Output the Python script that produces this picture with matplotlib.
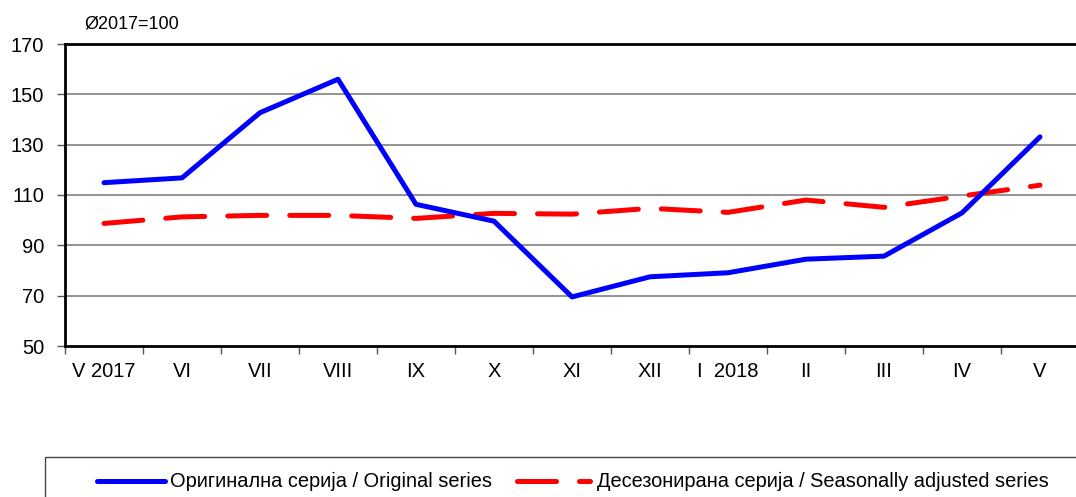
import matplotlib
matplotlib.use("Agg")
import matplotlib.pyplot as plt
from matplotlib.lines import Line2D
from matplotlib.patches import Rectangle

plt.rcParams['font.family'] = ['Liberation Sans', 'DejaVu Sans']

categories = ["V 2017", "VI", "VII", "VIII", "IX", "X", "XI", "XII", "I  2018", "II", "III", "IV", "V"]
original = [114.9, 116.8, 142.7, 156.0, 106.3, 99.6, 69.5, 77.5, 79.1, 84.5, 85.7, 102.9, 133.1]
seasonal = [98.7, 101.3, 101.9, 101.9, 100.7, 102.7, 102.4, 104.7, 103.1, 108.0, 105.1, 109.6, 113.9]
yticks = [50, 70, 90, 110, 130, 150, 170]

fig = plt.figure(figsize=(10.76, 4.97), dpi=100)
ax = fig.add_axes([65/1076, 1-346/497, (1079-65)/1076, (346-44)/497])

x = list(range(len(categories)))
ax.set_ylim(50, 170)
ax.set_xlim(-0.5, len(categories) - 0.5)
ax.set_yticks(yticks)
for v in yticks[1:-1]:
    ax.axhline(v, color='#808080', lw=1.2, zorder=1)

ax.plot(x, seasonal, color='#ff0000', lw=3.6, dashes=(7.8, 4.6), dash_capstyle='round',
        solid_capstyle='round', zorder=3)
ax.plot(x, original, color='#0000ff', lw=3.6, solid_capstyle='round', zorder=4)

ax.set_xticks(x)
ax.set_xticklabels(categories, fontsize=14.5)
ax.set_xticks([i - 0.5 for i in range(len(categories) + 1)], minor=True)
ax.tick_params(axis='x', which='major', length=0, pad=11.5)
ax.tick_params(axis='x', which='minor', length=6, width=1, color='#555555')
ax.tick_params(axis='y', labelsize=14.5, length=6, width=1, pad=9, color='#555555')

for s in ['left', 'bottom', 'top']:
    ax.spines[s].set_linewidth(2)
    ax.spines[s].set_color('black')
ax.spines['right'].set_visible(False)

fig.text(84/1076, 1-24/497, "Ø2017=100", fontsize=13, va='center', ha='left')

# legend box
fig.patches.append(Rectangle((45/1076, -0.05), 1.1, (497-457)/497 + 0.05,
                             transform=fig.transFigure, fill=False,
                             edgecolor='#444444', lw=1.0))
ly = 1 - 481/497
fig.lines.append(Line2D([97/1076, 165/1076], [ly, ly], transform=fig.transFigure,
                        color='#0000ff', lw=3.6, solid_capstyle='round'))
fig.text(170/1076, ly, "Оригинална серија / Original series", fontsize=14.4, va='center', ha='left')
fig.lines.append(Line2D([517/1076, 590/1076], [ly, ly], transform=fig.transFigure,
                        color='#ff0000', lw=3.6, dashes=(7.8, 4.6), dash_capstyle='round'))
fig.text(597/1076, ly, "Десезонирана серија / Seasonally adjusted series", fontsize=14.4,
         va='center', ha='left')

fig.savefig("out.png", dpi=100)
